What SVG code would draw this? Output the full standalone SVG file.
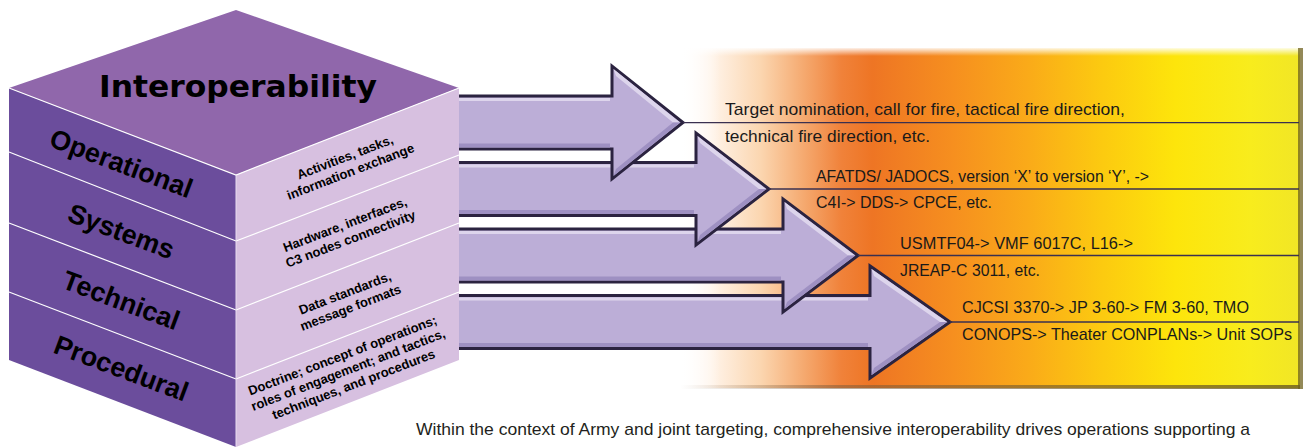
<svg xmlns="http://www.w3.org/2000/svg" width="1307" height="448" viewBox="0 0 1307 448">
  <defs>
    <linearGradient id="bandGrad" x1="680" y1="0" x2="1300" y2="0" gradientUnits="userSpaceOnUse">
      <stop offset="0" stop-color="#ffffff"/>
      <stop offset="0.05" stop-color="#fff4ea"/>
      <stop offset="0.13" stop-color="#fbd6b0"/>
      <stop offset="0.2" stop-color="#f5a96f"/>
      <stop offset="0.26" stop-color="#f0823a"/>
      <stop offset="0.31" stop-color="#ee7524"/>
      <stop offset="0.44" stop-color="#f68f1f"/>
      <stop offset="0.56" stop-color="#faaa19"/>
      <stop offset="0.68" stop-color="#fcca10"/>
      <stop offset="0.8" stop-color="#fde50b"/>
      <stop offset="0.92" stop-color="#f8ec1d"/>
      <stop offset="1" stop-color="#f1e626"/>
    </linearGradient>
    <linearGradient id="topGlow" x1="0" y1="0" x2="0" y2="1">
      <stop offset="0" stop-color="#ffffff" stop-opacity="0.9"/>
      <stop offset="1" stop-color="#ffffff" stop-opacity="0"/>
    </linearGradient>
    <linearGradient id="leftFade" x1="0" y1="0" x2="1" y2="0">
      <stop offset="0" stop-color="#ffffff" stop-opacity="1"/>
      <stop offset="1" stop-color="#ffffff" stop-opacity="0"/>
    </linearGradient>
    <linearGradient id="bottomShade" x1="680" y1="0" x2="1300" y2="0" gradientUnits="userSpaceOnUse">
      <stop offset="0" stop-color="#7a5a3a" stop-opacity="0"/>
      <stop offset="0.25" stop-color="#7a5a3a" stop-opacity="0.5"/>
      <stop offset="1" stop-color="#6a5a20" stop-opacity="0.8"/>
    </linearGradient>
    <style>
      .face-line { stroke: #ffffff; stroke-width: 1.2; fill: none; }
      .arrow { fill: #bcaed7; stroke: #2b2340; stroke-width: 3; stroke-linejoin: miter; }
      .hi { fill: #ddd5ec; }
      .lo { fill: #9e90c2; }
      .conn { stroke: #3a3050; stroke-width: 1.3; fill: none; }
      .lbl { font-family: "Liberation Sans", Arial, sans-serif; font-weight: bold; fill: #000000; }
      .side { font-size: 27px; text-anchor: middle; }
      .face { font-size: 13px; text-anchor: middle; }
      .desc { font-family: "Liberation Sans", Arial, sans-serif; font-size: 17px; fill: #1a1a1a; }
      .caption { font-family: "Liberation Sans", Arial, sans-serif; font-size: 17px; fill: #231f20; }
    </style>
  </defs>

  <!-- Colour band background -->
  <g id="band">
    <rect x="680" y="48" width="620" height="340" fill="url(#bandGrad)"/>
    <rect x="680" y="48" width="620" height="8" fill="url(#topGlow)"/>
    <rect x="680" y="48" width="40" height="340" fill="url(#leftFade)"/>
    <rect x="680" y="385" width="620" height="4" fill="url(#bottomShade)"/>
    <rect x="1298" y="48" width="5" height="341" fill="#6f6220" opacity="0.75"/>
  </g>

  <!-- Arrows (drawn bottom to top so upper heads overlap) -->
  <g id="arrow-procedural">
    <path class="arrow" d="M455,295.5 L870,295.5 L870,266 L950,322 L870,378 L870,348.5 L455,348.5 Z"/>
    <rect class="hi" x="456" y="297.5" width="412" height="3"/>
    <rect class="lo" x="456" y="343" width="412" height="4"/>
    <polygon class="hi" points="871.5,269 947,322 940,322 874,276"/>
    <polygon class="lo" points="871.5,375 947,322 940,322 874,368"/>
  </g>
  <g id="arrow-technical">
    <path class="arrow" d="M455,229 L783,229 L783,199 L858,255.5 L783,312 L783,282 L455,282 Z"/>
    <rect class="hi" x="456" y="231" width="325" height="3"/>
    <rect class="lo" x="456" y="276.5" width="325" height="4"/>
    <polygon class="hi" points="784.5,202 855,255.5 848,255.5 787,209"/>
    <polygon class="lo" points="784.5,309 855,255.5 848,255.5 787,302"/>
  </g>
  <g id="arrow-systems">
    <path class="arrow" d="M455,162.5 L696,162.5 L696,133 L769,189 L696,245 L696,215.5 L455,215.5 Z"/>
    <rect class="hi" x="456" y="164.5" width="238" height="3"/>
    <rect class="lo" x="456" y="210" width="238" height="4"/>
    <polygon class="hi" points="697.5,136 766,189 759,189 700,143"/>
    <polygon class="lo" points="697.5,242 766,189 759,189 700,235"/>
  </g>
  <g id="arrow-operational">
    <path class="arrow" d="M455,96 L612,96 L612,66 L683,122.5 L612,179 L612,149 L455,149 Z"/>
    <rect class="hi" x="456" y="98" width="154" height="3"/>
    <rect class="lo" x="456" y="143.5" width="154" height="4"/>
    <polygon class="hi" points="613.5,69 680,122.5 673,122.5 616,76"/>
    <polygon class="lo" points="613.5,176 680,122.5 673,122.5 616,169"/>
  </g>

  <!-- Connector lines from arrow tips -->
  <g id="connectors">
    <line class="conn" x1="683" y1="122.7" x2="1299" y2="122.7"/>
    <line class="conn" x1="769" y1="189" x2="1299" y2="189"/>
    <line class="conn" x1="858" y1="255.5" x2="1299" y2="255.5"/>
    <line class="conn" x1="950" y1="322" x2="1299" y2="322"/>
  </g>

  <!-- Cube -->
  <g id="cube">
    <polygon points="236,10 459,88 236,175 9,88" fill="#9067ab"/>
    <polygon points="9,88 236,175 236,447 9,360" fill="#6b4d9c"/>
    <polygon points="236,175 459,88 459,360 236,447" fill="#d7c0e0"/>
    <polyline class="face-line" points="9,88 236,175 459,88"/>
    <line class="face-line" x1="9" y1="152" x2="236" y2="241"/>
    <line class="face-line" x1="9" y1="223" x2="236" y2="310"/>
    <line class="face-line" x1="9" y1="292" x2="236" y2="379"/>
    <line class="face-line" x1="236" y1="241" x2="459" y2="155"/>
    <line class="face-line" x1="236" y1="310" x2="459" y2="223"/>
    <line class="face-line" x1="236" y1="379" x2="459" y2="292"/>
    <line x1="236" y1="175" x2="236" y2="447" stroke="#e9dcef" stroke-width="1"/>
  </g>

  <g id="title">
    <text x="238" y="97" font-family="'DejaVu Sans', sans-serif" font-weight="bold" font-size="30" fill="#000" text-anchor="middle" textLength="278" lengthAdjust="spacingAndGlyphs">Interoperability</text>
  </g>

  <g id="node-operational">
    <text class="lbl side" transform="translate(118,172) rotate(20.5)">Operational</text>
    <g transform="translate(348,165) rotate(-21)">
      <text class="lbl face" x="0" y="-4">Activities, tasks,</text>
      <text class="lbl face" x="0" y="11.5">information exchange</text>
    </g>
  </g>
  <g id="node-systems">
    <text class="lbl side" transform="translate(118,240) rotate(20.5)">Systems</text>
    <g transform="translate(348,232.4) rotate(-21)">
      <text class="lbl face" x="0" y="-4">Hardware, interfaces,</text>
      <text class="lbl face" x="0" y="11.5">C3 nodes connectivity</text>
    </g>
  </g>
  <g id="node-technical">
    <text class="lbl side" transform="translate(118,309) rotate(20.5)">Technical</text>
    <g transform="translate(348,301) rotate(-21)">
      <text class="lbl face" x="0" y="-4">Data standards,</text>
      <text class="lbl face" x="0" y="11.5">message formats</text>
    </g>
  </g>
  <g id="node-procedural">
    <text class="lbl side" transform="translate(118,377) rotate(20.5)">Procedural</text>
    <g transform="translate(348,369.8) rotate(-21)">
      <text class="lbl face" x="0" y="-11">Doctrine; concept of operations;</text>
      <text class="lbl face" x="0" y="4.5">roles of engagement; and tactics,</text>
      <text class="lbl face" x="0" y="20">techniques, and procedures</text>
    </g>
  </g>

  <!-- Descriptions -->
  <g id="desc-operational">
    <text class="desc" x="725" y="115" textLength="400" lengthAdjust="spacingAndGlyphs">Target nomination, call for fire, tactical fire direction,</text>
    <text class="desc" x="725" y="142" textLength="205" lengthAdjust="spacingAndGlyphs">technical fire direction, etc.</text>
  </g>
  <g id="desc-systems">
    <text class="desc" x="816" y="182" textLength="333" lengthAdjust="spacingAndGlyphs">AFATDS/ JADOCS, version ‘X’ to version ‘Y’, -&gt;</text>
    <text class="desc" x="816" y="208" textLength="176" lengthAdjust="spacingAndGlyphs">C4I-&gt; DDS-&gt; CPCE, etc.</text>
  </g>
  <g id="desc-technical">
    <text class="desc" x="900" y="249" textLength="233" lengthAdjust="spacingAndGlyphs">USMTF04-&gt; VMF 6017C, L16-&gt;</text>
    <text class="desc" x="900" y="276" textLength="140" lengthAdjust="spacingAndGlyphs">JREAP-C 3011, etc.</text>
  </g>
  <g id="desc-procedural">
    <text class="desc" x="962" y="313" textLength="287" lengthAdjust="spacingAndGlyphs">CJCSI 3370-&gt; JP 3-60-&gt; FM 3-60, TMO</text>
    <text class="desc" x="962" y="340" textLength="330" lengthAdjust="spacingAndGlyphs">CONOPS-&gt; Theater CONPLANs-&gt; Unit SOPs</text>
  </g>

  <g id="caption">
    <text class="caption" x="416" y="435" textLength="834" lengthAdjust="spacingAndGlyphs">Within the context of Army and joint targeting, comprehensive interoperability drives operations supporting a</text>
  </g>
</svg>
